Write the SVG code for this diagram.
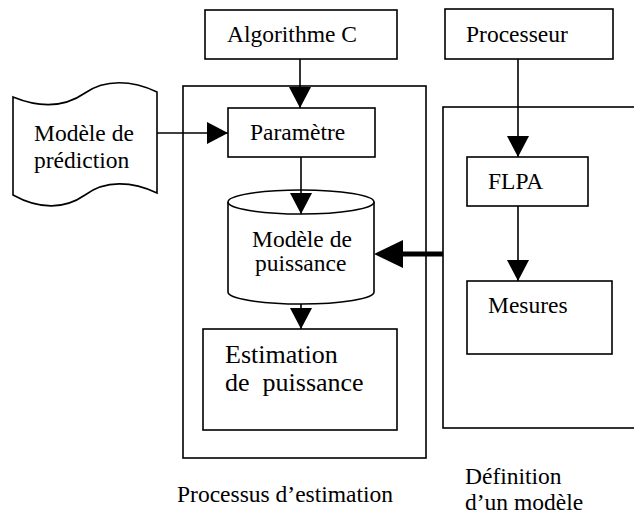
<svg xmlns="http://www.w3.org/2000/svg" width="634" height="515" viewBox="0 0 634 515">
<style>
.box{fill:#fff;stroke:#000;stroke-width:1.6}
.frame{fill:none;stroke:#000;stroke-width:1.6}
text{font-family:'Liberation Serif','Times New Roman',serif;font-size:23.5px;fill:#000}
.big{font-size:26px}
.line{stroke:#000;stroke-width:1.6;fill:none}
</style>
<defs>
<marker id="ah" markerUnits="userSpaceOnUse" markerWidth="22" markerHeight="22" refX="21" refY="11" orient="auto">
<path d="M0,0 L21,11 L0,22 Z" fill="#000"/>
</marker>
</defs>
<rect width="634" height="515" fill="#fff"/>
<g id="container-estimation"><rect class="frame" x="183" y="86" width="243" height="372"/></g>
<g id="container-definition"><rect class="frame" x="443" y="107" width="220" height="321"/></g>
<g id="algorithme"><rect class="box" x="205" y="10" width="192" height="49"/><text x="227" y="42">Algorithme C</text></g>
<g id="processeur"><rect class="box" x="445" y="9" width="168" height="50"/><text x="466" y="42">Processeur</text></g>
<g id="prediction"><path class="box" d="M13,97 C40,108 65,107 85,93 C105,79 132,80 157,92 L157,193 C132,181 105,180 85,195 C65,209 40,210 13,195 Z"/><text x="34" y="141">Modèle de</text><text x="34" y="168">prédiction</text></g>
<g id="parametre"><rect class="box" x="228" y="108" width="147" height="49"/><text x="250" y="140">Paramètre</text></g>
<g id="modele-puissance"><path class="box" d="M228,202 L228,292 A73,12 0 0 0 374,292 L374,202"/><ellipse class="box" cx="301" cy="202" rx="73" ry="12"/><text x="252" y="247">Modèle de</text><text x="255" y="271">puissance</text></g>
<g id="estimation"><rect class="box" x="203" y="329" width="194" height="101"/><text class="big" x="225" y="363">Estimation</text><text class="big" x="225" y="391" xml:space="preserve">de  puissance</text></g>
<g id="flpa"><rect class="box" x="467" y="157" width="121" height="49"/><text x="488" y="189">FLPA</text></g>
<g id="mesures"><rect class="box" x="467" y="281" width="145" height="73"/><text x="488" y="313">Mesures</text></g>
<g id="labels"><text x="177" y="502">Processus d’estimation</text><text x="465" y="484">Définition</text><text x="465" y="510">d’un modèle</text></g>
<g id="connectors">
<line class="line" x1="300" y1="59" x2="300" y2="108" marker-end="url(#ah)"/>
<line class="line" x1="157" y1="133" x2="228" y2="133" marker-end="url(#ah)"/>
<line class="line" x1="301" y1="157" x2="301" y2="214" marker-end="url(#ah)"/>
<line class="line" x1="301" y1="304" x2="301" y2="329" marker-end="url(#ah)"/>
<line class="line" x1="518" y1="59" x2="518" y2="157" marker-end="url(#ah)"/>
<line class="line" x1="518" y1="206" x2="518" y2="281" marker-end="url(#ah)"/>
<line x1="443" y1="254" x2="400" y2="254" stroke="#000" stroke-width="5"/>
<path d="M374,254 L403,240 L403,268 Z" fill="#000"/>
</g>
</svg>
